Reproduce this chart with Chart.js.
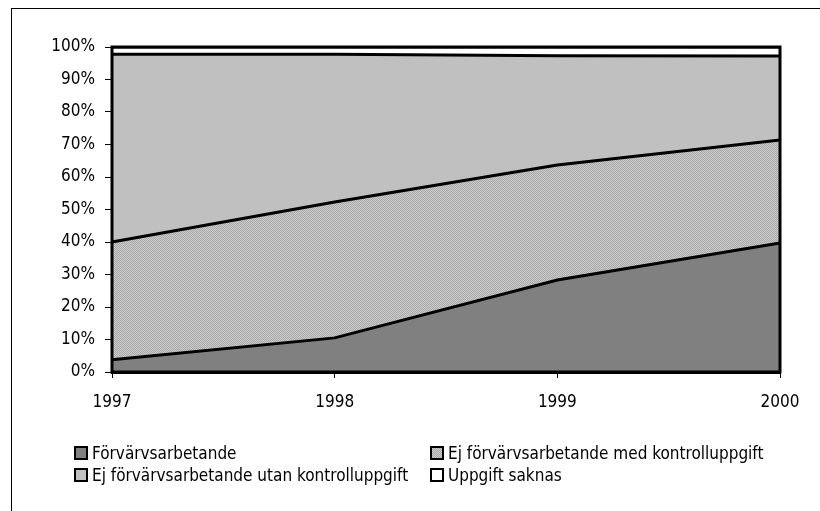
<!DOCTYPE html>
<html lang="sv">
<head>
  <meta charset="UTF-8" />
  <title>Förvärvsarbetande 1997-2000</title>
  <style>
    body {
      margin: 0;
      padding: 0;
      background: #fff;
      font-family: 'DejaVu Sans Condensed', 'DejaVu Sans', sans-serif;
    }
    .wrap {
      position: relative;
      width: 820px;
      height: 511px;
      overflow: hidden;
    }
    .frame {
      position: absolute;
      left: 11px;
      top: 8px;
      width: 900px;
      height: 600px;
      border: 1px solid #000;
    }
    canvas {
      position: absolute;
      left: 0;
      top: 0;
    }
    .legend-item {
      position: absolute;
      font-size: 17px;
      line-height: 22px;
      white-space: nowrap;
      color: #000;
    }
    .legend-item span.box {
      display: inline-block;
      width: 10px;
      height: 10px;
      border: 2px solid #000;
      margin-right: 4px;
      vertical-align: -1px;
    }
  </style>
  <script src="https://cdn.jsdelivr.net/npm/chart.js"></script>
</head>
<body>
  <div class="wrap">
    <div class="frame"></div>
    <canvas id="chart" width="820" height="511"></canvas>
    <div id="legend"></div>
  </div>

  <script>
    const years = ['1997', '1998', '1999', '2000'];
    const forvarvsarbetande = [3.8, 10.5, 28.3, 39.7];
    const medKontroll = [36.2, 41.8, 35.4, 31.7];
    const utanKontroll = [57.8, 45.5, 33.6, 25.8];
    const saknas = [2.2, 2.2, 2.7, 2.8];
    const seriesNames = [
      'Förvärvsarbetande',
      'Ej förvärvsarbetande med kontrolluppgift',
      'Ej förvärvsarbetande utan kontrolluppgift',
      'Uppgift saknas'
    ];

    const FONT = "'DejaVu Sans Condensed', 'DejaVu Sans', sans-serif";

    // prickigt grått mönster
    function makePattern() {
      const c = document.createElement('canvas');
      c.width = 2;
      c.height = 2;
      const p = c.getContext('2d');
      p.fillStyle = '#cccccc';
      p.fillRect(0, 0, 2, 2);
      p.fillStyle = '#a8a8a8';
      p.fillRect(0, 0, 1, 1);
      p.fillRect(1, 1, 1, 1);
      return document.getElementById('chart').getContext('2d').createPattern(c, 'repeat');
    }
    const dotted = makePattern();

    // ram runt ritytan
    const plotFrame = {
      id: 'plotFrame',
      afterDatasetsDraw(chart) {
        const a = chart.chartArea;
        const ctx = chart.ctx;
        ctx.save();
        ctx.strokeStyle = '#000';
        ctx.lineWidth = 3;
        ctx.strokeRect(a.left, a.top, a.right - a.left, a.bottom - a.top);
        ctx.restore();
      }
    };

    const common = { borderColor: '#000', borderWidth: 3, pointRadius: 0, tension: 0 };

    const chart = new Chart(document.getElementById('chart'), {
      type: 'line',
      data: {
        labels: years,
        datasets: [
          { label: seriesNames[0], data: forvarvsarbetande, backgroundColor: '#808080', fill: 'origin', ...common },
          { label: seriesNames[1], data: medKontroll, backgroundColor: dotted, fill: '-1', ...common },
          { label: seriesNames[2], data: utanKontroll, backgroundColor: '#c0c0c0', fill: '-1', ...common },
          { label: seriesNames[3], data: saknas, backgroundColor: '#ffffff', fill: '-1', ...common }
        ]
      },
      options: {
        responsive: false,
        animation: false,
        layout: { padding: { top: 47, right: 40, bottom: 0, left: 0 } },
        plugins: {
          legend: { display: false },
          tooltip: { enabled: false }
        },
        scales: {
          x: {
            offset: false,
            afterFit(scale) { scale.height = 139; },
            grid: { drawOnChartArea: false, tickLength: 6, color: '#000', lineWidth: 1 },
            border: { color: '#000', width: 3 },
            ticks: { color: '#000', font: { family: FONT, size: 17 }, padding: 14, maxRotation: 0 }
          },
          y: {
            stacked: true,
            min: 0,
            max: 100,
            afterFit(scale) { scale.width = 112; },
            grid: { drawOnChartArea: false, tickLength: 7, color: '#000', lineWidth: 1 },
            border: { color: '#000', width: 3 },
            ticks: {
              stepSize: 10,
              color: '#000',
              padding: 10,
              font: { family: FONT, size: 17 },
              callback: v => v + '%'
            }
          }
        }
      },
      plugins: [plotFrame]
    });

    // legend i två kolumner
    const legendPos = [[74, 442], [430, 442], [74, 464], [430, 464]];
    const fills = ['#808080', 'repeating-conic-gradient(#a8a8a8 0 25%, #cccccc 0 50%) 0 0 / 2px 2px', '#c0c0c0', '#ffffff'];
    const legend = document.getElementById('legend');
    seriesNames.forEach((name, i) => {
      const d = document.createElement('div');
      d.className = 'legend-item';
      d.style.left = legendPos[i][0] + 'px';
      d.style.top = legendPos[i][1] + 'px';
      const b = document.createElement('span');
      b.className = 'box';
      b.style.background = fills[i];
      d.appendChild(b);
      d.appendChild(document.createTextNode(name));
      legend.appendChild(d);
    });
  </script>
</body>
</html>
